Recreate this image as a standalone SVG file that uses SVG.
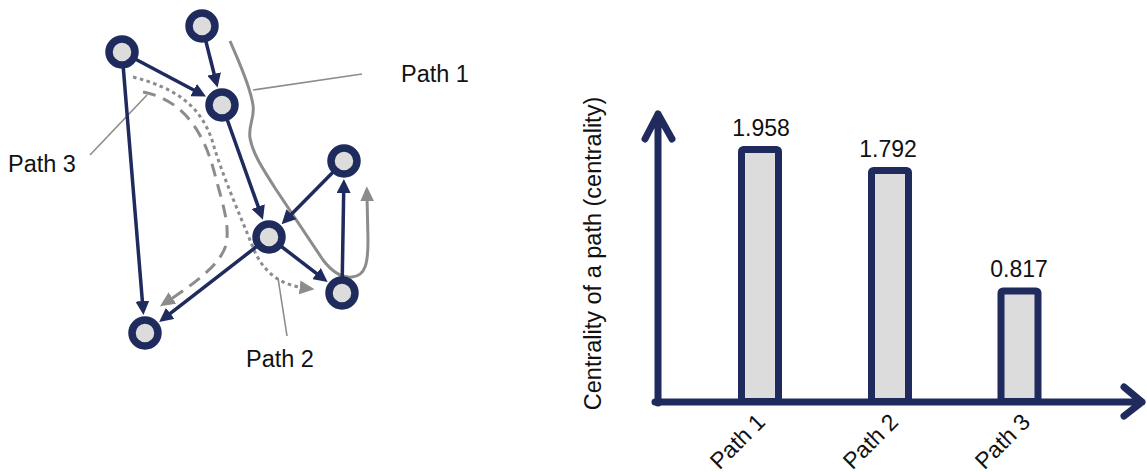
<svg xmlns="http://www.w3.org/2000/svg" width="1147" height="472" viewBox="0 0 1147 472">
<style>
.txt{font-family:"Liberation Sans",Arial,sans-serif;font-size:23.5px;fill:#111}
.rot{font-family:"Liberation Sans",Arial,sans-serif;font-size:23px;fill:#111;text-anchor:middle}
.val{font-family:"Liberation Sans",Arial,sans-serif;font-size:23px;fill:#111;text-anchor:middle}
.edge{stroke:#1e2b5c;stroke-width:3.5;fill:none;marker-end:url(#ah)}
.node{fill:#dcdcdc;stroke:#1e2b5c;stroke-width:7.5}
.gp{stroke:#8c8c8c;stroke-width:3;fill:none}
.lead{stroke:#8c8c8c;stroke-width:1.6;fill:none}
.axis{stroke:#1e2b5c;stroke-width:7;fill:none;stroke-linecap:round;stroke-linejoin:round}
.bar{fill:#dcdcdc;stroke:#1e2b5c;stroke-width:7}
</style>
<defs>
<marker id="ah" viewBox="0 0 14 14" refX="8" refY="7" markerWidth="14" markerHeight="14" markerUnits="userSpaceOnUse" orient="auto">
<path d="M0,0 L14,7 L0,14 z" fill="#1e2b5c"/>
</marker>
<marker id="gh" viewBox="0 0 14 14" refX="5" refY="7" markerWidth="15" markerHeight="15" markerUnits="userSpaceOnUse" orient="auto">
<path d="M0,0.5 L14,7 L0,13.5 z" fill="#8c8c8c"/>
</marker>
</defs>
<g id="paths">
<path id="path1" class="gp" d="M230,41 C238,60 250,85 253,105 C255,118 248,125 250,138 C253,155 265,172 275,188 L323,260 C333,273 343,278 352,277 C366,276 368,262 368,240 L367,196" marker-end="url(#gh)"/>
<path id="path2" class="gp" stroke-width="3.5" stroke-dasharray="3.5,3.5" d="M133,77 C175,88 200,105 212,140 C222,175 240,215 252,245 C262,272 280,285 305,288" marker-end="url(#gh)"/>
<path id="path3" class="gp" stroke-width="3.2" stroke-dasharray="13,8" d="M143,92 C185,100 205,135 215,175 C223,205 230,225 226,245 C220,265 195,283 168,301" marker-end="url(#gh)"/>
</g>
<g id="leaders">
<line class="lead" x1="253" y1="90" x2="362" y2="74"/>
<line class="lead" x1="147" y1="95" x2="90" y2="155"/>
<line class="lead" x1="278" y1="278" x2="287" y2="336"/>
</g>
<g id="connectors">
<line class="edge" x1="122" y1="52" x2="200.7" y2="93.8"/>
<line class="edge" x1="202" y1="26" x2="216.1" y2="81.8"/>
<line class="edge" x1="122" y1="52" x2="143" y2="309"/>
<line class="edge" x1="222" y1="105" x2="260.9" y2="214.2"/>
<line class="edge" x1="344" y1="161" x2="285.8" y2="219.9"/>
<line class="edge" x1="269" y1="237" x2="322.9" y2="278.4"/>
<line class="edge" x1="269" y1="237" x2="163.9" y2="318.3"/>
<line class="edge" x1="342" y1="293" x2="343.8" y2="185"/>
</g>
<g id="nA"><circle class="node" cx="122" cy="52" r="13"/></g>
<g id="nB"><circle class="node" cx="202" cy="26" r="13"/></g>
<g id="nC"><circle class="node" cx="222" cy="105" r="13"/></g>
<g id="nD"><circle class="node" cx="344" cy="161" r="13"/></g>
<g id="nE"><circle class="node" cx="269" cy="237" r="13"/></g>
<g id="nF"><circle class="node" cx="342" cy="293" r="13"/></g>
<g id="nG"><circle class="node" cx="145" cy="333" r="13"/></g>
<g id="labels">
<text class="txt" x="401" y="82">Path 1</text>
<text class="txt" x="8" y="172">Path 3</text>
<text class="txt" x="246" y="367">Path 2</text>
</g>
<g id="chart">
<rect class="bar" x="741.5" y="149.5" width="37" height="252" rx="2"/>
<rect class="bar" x="871.5" y="170.5" width="37" height="231" rx="2"/>
<rect class="bar" x="1001" y="291" width="37" height="110.5" rx="2"/>
<path class="axis" d="M658,403 L658,114 M645,139 L658,114 L672,139"/>
<path class="axis" d="M655,402 L1142,402 M1124,387 L1142,402 L1124,416"/>
<text class="val" x="761" y="136">1.958</text>
<text class="val" x="888" y="157">1.792</text>
<text class="val" x="1019" y="277">0.817</text>
<text class="txt" text-anchor="middle" transform="translate(601,253.5) rotate(-90)">Centrality of a path (centrality)</text>
<text class="rot" transform="translate(743,447) rotate(-45)">Path 1</text>
<text class="rot" transform="translate(876,447) rotate(-45)">Path 2</text>
<text class="rot" transform="translate(1008,447) rotate(-45)">Path 3</text>
</g>
</svg>
